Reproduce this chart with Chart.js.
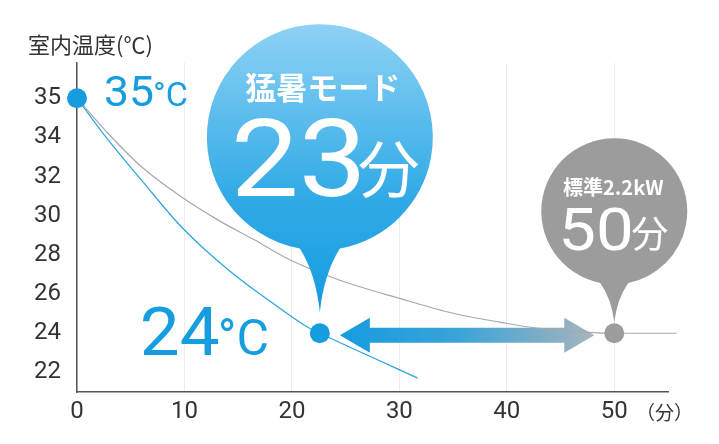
<!DOCTYPE html>
<html>
<head>
<meta charset="utf-8">
<script src="https://cdn.jsdelivr.net/npm/chart.js@4.4.0/dist/chart.umd.min.js"></script>
<style>
  html, body { margin: 0; background: #fff; }
  #wrap { width: 719px; height: 444px; position: relative; }
</style>
</head>
<body>
<div id="wrap"><canvas id="chart"></canvas></div>
<script>
// data (minutes, room temperature)
const xTicks = [0, 10, 20, 30, 40, 50];
const yTicks = [22, 24, 26, 28, 30, 32, 34, 35];

const turboTime = [0, 2.9, 6.0, 9.7, 14.1, 18.2, 21.4, 22.6, 27.0, 31.7];
const turboTemp = [35, 33.87, 31.82, 29.44, 27.23, 25.54, 24.33, 24, 22.89, 21.71];

const stdTime = [0, 2.9, 6.0, 9.7, 13.1, 16.5, 19.8, 24.4, 30.0, 35.0, 39.9, 43.0, 45.2, 48.0, 50, 55.8];
const stdTemp = [35, 34.1, 32.5, 30.97, 29.79, 28.77, 27.75, 26.72, 25.78, 25.02, 24.51, 24.25, 24.15, 24.03, 24, 24];

const turboMarkTime = [0, 22.6];
const turboMarkTemp = [35, 24];
const stdMarkTime = [50];
const stdMarkTemp = [24];

const turboLabel = ['猛暑モード', '23', '分'];
const stdLabel = ['標準2.2kW', '50', '分'];

const BLUE = '#159de0';
const GREY = '#9c9c9c';
const TEXT = '#333';

// the axis is not linear: ticks 22..34 step 2, then 35 one slot above
function toAxis(t) {
  return t >= 34 ? 6 + (t - 34) : (t - 22) / 2;
}

function points(xs, ts) {
  return xs.map((x, i) => ({ x: x, y: toAxis(ts[i]) }));
}

function pin(ctx, cx, cy, r, tipY, half, fill) {
  const d = Math.asin(half / r);
  const jy = cy + r * Math.cos(d);
  ctx.beginPath();
  ctx.arc(cx, cy, r, Math.PI / 2 + d, Math.PI / 2 - d + Math.PI * 2);
  ctx.quadraticCurveTo(cx + half * 0.2, jy + (tipY - jy) * 0.4, cx, tipY);
  ctx.quadraticCurveTo(cx - half * 0.2, jy + (tipY - jy) * 0.4, cx - half, jy);
  ctx.closePath();
  ctx.fillStyle = fill;
  ctx.fill();
}

// wide digits: stretch horizontally a little, anchored at x
function wideText(ctx, txt, x, y, sx) {
  ctx.save();
  ctx.translate(x, y);
  ctx.scale(sx, 1);
  ctx.fillText(txt, 0, 0);
  ctx.restore();
}

const arrowPlugin = {
  id: 'arrow',
  beforeDatasetsDraw(chart) {
    const { ctx, scales: { x, y } } = chart;
    const L = x.getPixelForValue(turboMarkTime[1]) + 20;
    const R = x.getPixelForValue(stdMarkTime[0]) - 20;
    const cy = y.getPixelForValue(toAxis(24)) + 2;
    const sh = 7.5, hh = 17.5, hl = 30;
    const g = ctx.createLinearGradient(L, 0, R, 0);
    g.addColorStop(0, '#169be0');
    g.addColorStop(0.45, '#38a3d9');
    g.addColorStop(1, '#a6b4bd');
    ctx.save();
    ctx.beginPath();
    ctx.moveTo(L, cy);
    ctx.lineTo(L + hl, cy - hh);
    ctx.lineTo(L + hl, cy - sh);
    ctx.lineTo(R - hl, cy - sh);
    ctx.lineTo(R - hl, cy - hh);
    ctx.lineTo(R, cy);
    ctx.lineTo(R - hl, cy + hh);
    ctx.lineTo(R - hl, cy + sh);
    ctx.lineTo(L + hl, cy + sh);
    ctx.lineTo(L + hl, cy + hh);
    ctx.closePath();
    ctx.fillStyle = g;
    ctx.fill();
    ctx.restore();
  }
};

const calloutPlugin = {
  id: 'callouts',
  afterDatasetsDraw(chart) {
    const { ctx, scales: { x, y } } = chart;
    const sx = x.getPixelForValue(turboMarkTime[0]);
    const sy = y.getPixelForValue(toAxis(turboMarkTemp[0]));
    const bx = x.getPixelForValue(turboMarkTime[1]);
    const by = y.getPixelForValue(toAxis(turboMarkTemp[1]));
    const gx = x.getPixelForValue(stdMarkTime[0]);
    const gy = y.getPixelForValue(toAxis(stdMarkTemp[0]));
    ctx.save();

    // axis captions
    ctx.fillStyle = TEXT;
    ctx.textBaseline = 'middle';
    ctx.textAlign = 'left';
    ctx.font = '22px "Noto Sans CJK JP", sans-serif';
    ctx.fillText('室内温度(℃)', 28, 45);
    ctx.font = '19px "Noto Sans CJK JP", sans-serif';
    ctx.fillText('（分）', 636, 413);

    // start / target temperature labels
    ctx.fillStyle = BLUE;
    ctx.textBaseline = 'alphabetic';
    ctx.font = '42px Roboto, sans-serif';
    wideText(ctx, turboMarkTemp[0], sx + 27, sy + 8, 1.06);
    ctx.font = '34px Roboto, sans-serif';
    ctx.fillText('°C', sx + 76, sy + 8);
    ctx.font = '67px Roboto, sans-serif';
    wideText(ctx, turboMarkTemp[1], bx - 180, by + 22, 1.06);
    ctx.font = '50px Roboto, sans-serif';
    ctx.fillText('°C', bx - 102, by + 22);

    // blue pin
    const bcy = by - 196, br = 113;
    const grad = ctx.createLinearGradient(0, bcy - br, 0, by - 21);
    grad.addColorStop(0, '#8dd2f4');
    grad.addColorStop(0.6, '#31aae6');
    grad.addColorStop(1, '#159ce0');
    pin(ctx, bx, bcy, br, by - 21, 20, grad);

    ctx.fillStyle = '#fff';
    ctx.textAlign = 'center';
    ctx.textBaseline = 'middle';
    ctx.font = 'bold 31px "Noto Sans CJK JP", sans-serif';
    ctx.fillText(turboLabel[0], bx + 3, bcy - 50);
    ctx.textBaseline = 'alphabetic';
    ctx.textAlign = 'left';
    ctx.font = '108px Roboto, sans-serif';
    wideText(ctx, turboLabel[1], bx - 89, bcy + 59, 1.12);
    ctx.font = '62px "Noto Sans CJK JP", sans-serif';
    ctx.fillText(turboLabel[2], bx + 38, bcy + 56);

    // grey pin
    const gcy = gy - 122, gr = 73;
    pin(ctx, gx, gcy, gr, gy - 11, 14, GREY);
    ctx.fillStyle = '#fff';
    ctx.textAlign = 'center';
    ctx.textBaseline = 'middle';
    ctx.font = 'bold 20px "Noto Sans CJK JP", sans-serif';
    ctx.fillText(stdLabel[0], gx - 1, gcy - 24);
    ctx.textBaseline = 'alphabetic';
    ctx.textAlign = 'left';
    ctx.font = '60px Roboto, sans-serif';
    wideText(ctx, stdLabel[1], gx - 56, gcy + 39, 1.12);
    ctx.font = '37px "Noto Sans CJK JP", sans-serif';
    ctx.fillText(stdLabel[2], gx + 17, gcy + 37);

    ctx.restore();
  }
};

const ctx = document.getElementById('chart');
new Chart(ctx, {
  type: 'line',
  data: {
    datasets: [
      {
        data: points(turboTime, turboTemp),
        borderColor: '#2ba3de',
        borderWidth: 1.2,
        pointRadius: 0,
        cubicInterpolationMode: 'monotone',
        order: 3
      },
      {
        data: points(stdTime, stdTemp),
        borderColor: '#a8a8a8',
        borderWidth: 1.2,
        pointRadius: 0,
        cubicInterpolationMode: 'monotone',
        clip: false,
        order: 2
      },
      {
        data: points(turboMarkTime, turboMarkTemp),
        showLine: false,
        pointRadius: 10,
        pointBackgroundColor: BLUE,
        pointBorderWidth: 0,
        clip: false,
        order: 1
      },
      {
        data: points(stdMarkTime, stdMarkTemp),
        showLine: false,
        pointRadius: 10,
        pointBackgroundColor: GREY,
        pointBorderWidth: 0,
        clip: false,
        order: 1
      }
    ]
  },
  options: {
    responsive: true,
    maintainAspectRatio: false,
    animation: false,
    layout: { padding: { top: 63, right: 51, left: 0, bottom: 0 } },
    plugins: { legend: { display: false }, tooltip: { enabled: false } },
    scales: {
      x: {
        type: 'linear',
        min: 0,
        max: 55,
        afterFit: s => { s.height = 52; },
        afterBuildTicks: s => { s.ticks = xTicks.map(v => ({ value: v })); },
        ticks: { color: TEXT, padding: 6, font: { family: 'Roboto', size: 24 } },
        grid: { color: '#ebebeb', drawTicks: false },
        border: { color: '#555', width: 1.5 }
      },
      y: {
        type: 'linear',
        min: -0.5,
        max: 7.9,
        afterFit: s => { s.width = 77; },
        afterBuildTicks: s => { s.ticks = yTicks.map(t => ({ value: toAxis(t) })); },
        ticks: {
          color: TEXT,
          padding: 16,
          font: { family: 'Roboto', size: 24 },
          callback: v => {
            const i = yTicks.findIndex(t => Math.abs(toAxis(t) - v) < 1e-6);
            return i < 0 ? '' : yTicks[i];
          }
        },
        grid: { display: false, drawTicks: false },
        border: { color: '#555', width: 1.5 }
      }
    }
  },
  plugins: [arrowPlugin, calloutPlugin]
});
</script>
</body>
</html>
